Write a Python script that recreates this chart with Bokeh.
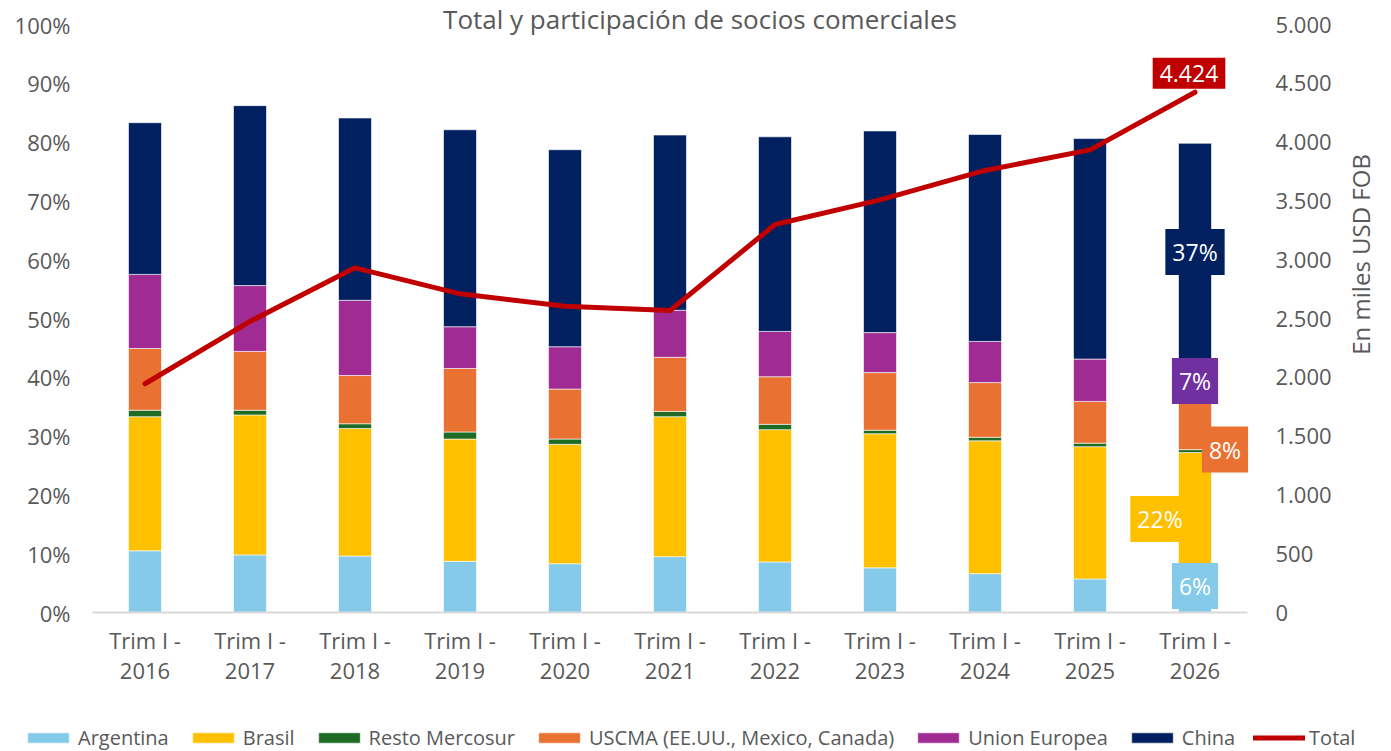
import math
from bokeh.plotting import figure
from bokeh.models import (ColumnDataSource, Range1d, LinearAxis, FixedTicker,
                          NumeralTickFormatter, Legend, LegendItem, Label)
from bokeh.embed import file_html
from bokeh.resources import INLINE

# ---------------- data ----------------
years = ["2016", "2017", "2018", "2019", "2020", "2021", "2022", "2023", "2024", "2025", "2026"]
period_prefix = "Trim I -"
argentina = [10.5, 9.8, 9.6, 8.7, 8.3, 9.5, 8.6, 7.6, 6.6, 5.7, 5.6]
brasil = [22.8, 23.8, 21.7, 20.8, 20.3, 23.8, 22.5, 22.8, 22.6, 22.5, 21.6]
resto_mercosur = [1.1, 0.8, 0.8, 1.2, 0.9, 0.9, 0.9, 0.6, 0.6, 0.6, 0.5]
uscma = [10.5, 10.0, 8.2, 10.8, 8.5, 9.2, 8.1, 9.8, 9.3, 7.1, 8.2]
union_europea = [12.6, 11.2, 12.8, 7.1, 7.2, 8.0, 7.7, 6.8, 7.0, 7.2, 6.9]
china = [25.8, 30.6, 31.0, 33.5, 33.5, 29.8, 33.1, 34.3, 35.2, 37.5, 37.0]
total = [1945, 2475, 2931, 2710, 2605, 2568, 3299, 3509, 3759, 3934, 4424]

series_names = ["Argentina", "Brasil", "Resto Mercosur", "USCMA (EE.UU., Mexico, Canada)",
                "Union Europea", "China"]
series_values = [argentina, brasil, resto_mercosur, uscma, union_europea, china]
series_keys = ["arg", "bra", "res", "usc", "ue", "chi"]
colors = ["#86CAEA", "#FFC000", "#1D6B24", "#E97132", "#A02B93", "#002060"]
total_color = "#C00000"
title_text = "Total y participación de socios comerciales"
right_axis_title = "En miles USD FOB"

TXT = "#595959"
FONT = "Open Sans"
TICK_FS = "22px"

x = list(range(len(years)))
data = {"x": x}
for k, vals in zip(series_keys, series_values):
    data[k] = [v / 100 for v in vals]
data["total"] = total
src = ColumnDataSource(data)

# Frame covers the whole canvas; the plotting area is reproduced through the ranges.
W, H = 1391, 751
PX_X = 105.0      # px per category
PX_Y = 588.0      # px per 100 %
LEFT, RIGHT, TOP, BOTTOM = 92, 1247, 24, 612
n = len(years)
X_START = -0.5 - LEFT / PX_X
X_END = n - 0.5 + (W - RIGHT) / PX_X
Y_START = -(H - BOTTOM) / PX_Y
Y_END = 1 + TOP / PX_Y

p = figure(width=W, height=H, output_backend="svg", toolbar_location=None,
           x_range=Range1d(X_START, X_END), y_range=Range1d(Y_START, Y_END),
           x_axis_location=None, y_axis_location=None,
           min_border_left=0, min_border_right=0, min_border_top=0, min_border_bottom=0,
           outline_line_color=None, background_fill_color="white", border_fill_color="white")
p.xgrid.visible = False
p.ygrid.visible = False
p.extra_y_ranges = {"tot": Range1d(5000 * Y_START, 5000 * Y_END)}

common = dict(major_tick_line_color=None, minor_tick_line_color=None,
              major_label_text_font=FONT, major_label_text_font_size=TICK_FS,
              major_label_text_color=TXT)

# left axis (percent)
ya = LinearAxis(ticker=FixedTicker(ticks=[i / 10 for i in range(11)]),
                formatter=NumeralTickFormatter(format="0%"), axis_line_color=None,
                fixed_location=-0.5, major_label_standoff=16, **common)
p.add_layout(ya, "left")

# right axis (miles USD FOB)
right_ticks = list(range(0, 5001, 500))
ra = LinearAxis(y_range_name="tot", ticker=FixedTicker(ticks=right_ticks),
                major_label_overrides={t: f"{t:,}".replace(",", ".") for t in right_ticks},
                axis_line_color=None, fixed_location=n - 0.5, major_label_standoff=22, **common)
p.add_layout(ra, "right")

# category axes (two lines)
xa1 = LinearAxis(ticker=FixedTicker(ticks=x), bounds=(-0.5, n - 0.5),
                 major_label_overrides={i: period_prefix for i in x},
                 axis_line_color="#D9D9D9", axis_line_width=2, fixed_location=0,
                 major_label_standoff=6, **common)
xa2 = LinearAxis(ticker=FixedTicker(ticks=x), bounds=(-0.5, n - 0.5),
                 major_label_overrides={i: y for i, y in enumerate(years)},
                 axis_line_color=None, fixed_location=0, major_label_standoff=44, **common)
p.add_layout(xa1, "below")
p.add_layout(xa2, "below")

# stacked bars
bars = p.vbar_stack(series_keys, x="x", width=0.314, source=src, color=colors,
                    line_color="white", line_width=0.6)

# total line
line = p.line("x", "total", source=src, y_range_name="tot", line_color=total_color,
              line_width=5, line_join="round", line_cap="round")

# data labels for the last period
last = n - 1
cum = [0.0]
for vals in series_values:
    cum.append(cum[-1] + vals[last] / 100)

def box(xv, yv, text, bg, xo=0, yo=0, rng="default"):
    lab = Label(x=xv, y=yv, x_offset=xo, y_offset=yo, text=text, y_range_name=rng,
                text_align="center", text_baseline="middle", text_color="white",
                text_font=FONT, text_font_size="23px",
                background_fill_color=bg, padding=7)
    p.add_layout(lab)

pct = lambda v: f"{round(v):.0f}%"
box(last, (cum[5] + cum[6]) / 2, pct(china[last]), colors[5])
box(last, (cum[4] + cum[5]) / 2, pct(union_europea[last]), "#7030A0")
box(last, cum[3], pct(uscma[last]), colors[3], xo=30, yo=0)
box(last, (cum[1] + cum[2]) / 2, pct(brasil[last]), colors[1], xo=-35, yo=-3)
box(last, (cum[0] + cum[1]) / 2, pct(argentina[last]), colors[0], yo=10)
box(last, total[last], f"{total[last]:,}".replace(",", "."), total_color, xo=-6, yo=19, rng="tot")

# title
p.add_layout(Label(x=(n - 1) / 2, x_offset=30, y=Y_END, y_offset=-18, text=title_text,
                   text_align="center", text_baseline="middle", text_font=FONT,
                   text_font_size="26px", text_color=TXT))
# right axis title
p.add_layout(Label(x=n - 0.5, x_offset=113, y=0.609, text=right_axis_title,
                   angle=math.pi / 2, text_align="center", text_baseline="middle",
                   text_font=FONT, text_font_size="24px", text_color=TXT))

# legend
items = [LegendItem(label=nm, renderers=[r]) for nm, r in zip(series_names, bars)]
items.append(LegendItem(label="Total", renderers=[line]))
legend = Legend(items=items, orientation="horizontal", location=(22, 0),
                glyph_width=52, glyph_height=13, label_standoff=4, spacing=18,
                padding=0, margin=0, border_line_color=None, background_fill_alpha=0,
                label_text_font=FONT, label_text_font_size="20px", label_text_color=TXT)
p.add_layout(legend, "center")

open("out.html", "w").write(file_html(p, INLINE))
